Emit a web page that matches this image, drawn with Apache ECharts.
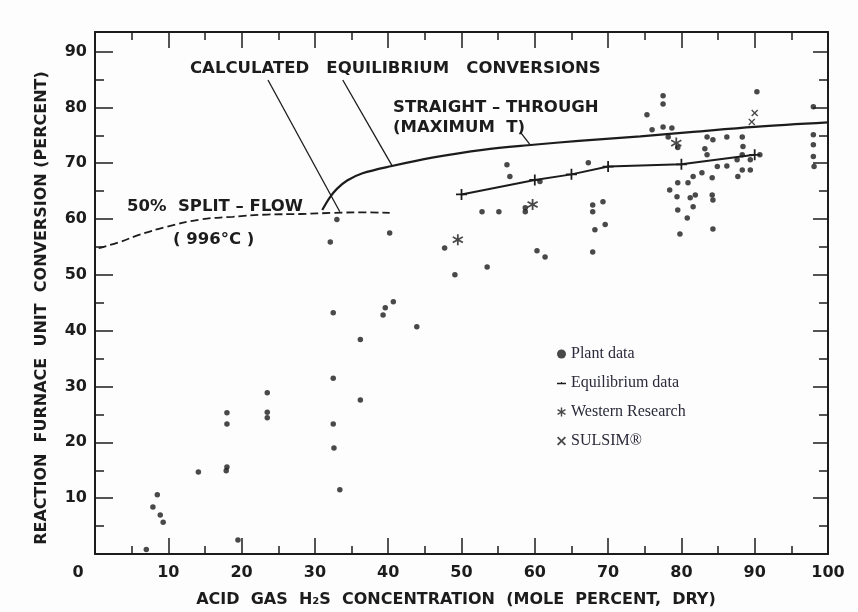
<!DOCTYPE html>
<html>
<head>
<meta charset="utf-8">
<script src="https://cdn.jsdelivr.net/npm/echarts@6/dist/echarts.min.js"></script>
<style>
html,body{margin:0;padding:0;background:#fdfdfd;}
#chart{width:858px;height:612px;}
</style>
</head>
<body>
<div id="chart"></div>
<script>
// ---------- data ----------
const xTickValues = [0,10,20,30,40,50,60,70,80,90,100];
const yTickValues = [0,10,20,30,40,50,60,70,80,90];
const yMinorValues = [5,15,25,35,45,55,65,75,85];
const yLabelValues = [10,20,30,40,50,60,70,80,90];

// 50% split-flow (996 C) calculated curve (dashed)
const splitFlowX = [0.5, 3.4, 6.1, 9.8, 14.3, 18.8, 23.5, 28.0, 32.5, 36.5, 40.2];
const splitFlowY = [54.8, 55.9, 57.2, 58.6, 59.9, 60.4, 60.8, 60.9, 61.1, 61.2, 61.1];

// straight-through (maximum T) calculated curve (solid)
const straightX = [31.0, 32.0, 33.0, 34.4, 36.5, 40.5, 46.0, 52.9, 59.8, 66.0, 74.4, 81.6, 90.0, 100.0];
const straightY = [61.6, 63.8, 65.4, 66.9, 68.2, 69.5, 71.0, 72.4, 73.3, 74.0, 74.8, 75.6, 76.5, 77.3];

// equilibrium data (+) joined by line
const equilX = [50.0, 60.0, 65.0, 70.0, 80.0, 90.0];
const equilY = [64.4, 67.0, 68.0, 69.4, 69.8, 71.5];

// plant data (dots)
const plantX = [7.0, 7.9, 8.5, 8.9, 9.3, 14.1, 17.9, 18.0, 18.0, 18.0, 19.5, 23.5, 23.5, 23.5,
  32.1, 33.0, 32.5, 32.5, 32.5, 32.6, 33.4, 36.2, 36.2, 39.3, 39.6, 40.7, 40.2, 43.9,
  47.7, 49.1, 52.8, 53.5, 55.1, 56.2, 56.6, 58.7, 58.7, 60.3, 60.7, 61.4,
  67.3, 67.9, 67.9, 67.9, 68.2, 69.3, 69.6,
  75.3, 76.0, 77.5, 77.5, 77.5, 78.7, 78.2, 78.4, 79.5, 79.5, 79.4, 79.5, 79.8, 80.8, 80.9,
  81.2, 81.6, 81.6, 81.9, 82.8, 83.2, 83.5, 83.5, 84.2, 84.2, 84.3, 84.3, 84.3, 84.9,
  86.2, 86.2, 87.6, 87.7, 88.3, 88.3, 88.3, 88.4, 89.4, 89.4, 90.3, 90.7,
  98.0, 98.0, 98.0, 98.0, 98.1];
const plantY = [0.8, 8.4, 10.6, 7.0, 5.7, 14.7, 14.9, 15.6, 23.3, 25.3, 2.5, 24.4, 25.4, 28.9,
  55.9, 59.9, 43.2, 31.5, 23.3, 19.0, 11.5, 38.4, 27.6, 42.8, 44.1, 45.2, 57.5, 40.7,
  54.8, 50.0, 61.3, 51.4, 61.3, 69.7, 67.6, 62.0, 61.3, 54.3, 66.7, 53.2,
  70.1, 62.5, 61.3, 54.1, 58.1, 63.1, 59.0,
  78.7, 76.0, 82.1, 80.6, 76.5, 76.3, 74.7, 65.2, 72.8, 66.5, 64.0, 61.6, 57.3, 60.2, 66.5,
  63.8, 67.6, 62.2, 64.3, 68.3, 72.6, 71.5, 74.7, 67.4, 64.3, 74.2, 63.4, 58.2, 69.4,
  74.7, 69.5, 70.6, 67.6, 74.7, 71.5, 68.8, 73.0, 70.6, 68.8, 82.8, 71.5,
  80.1, 75.1, 73.3, 71.2, 69.4];

// Western Research (*)
const westernX = [49.5, 59.7, 79.3];
const westernY = [56.3, 62.6, 73.6];

// SULSIM (x)
const sulsimX = [89.6, 90.0];
const sulsimY = [77.4, 79.0];

// labels
const xTitle = 'ACID  GAS  H\u2082S  CONCENTRATION  (MOLE  PERCENT,  DRY)';
const yTitle = 'REACTION  FURNACE  UNIT  CONVERSION (PERCENT)';
const legendNames = ['Plant data', 'Equilibrium data', 'Western Research', 'SULSIM\u00AE'];

// ---------- helpers ----------
const zip = (xs, ys) => xs.map((x, i) => [x, ys[i]]);
const INK = '#1c1c1c';
const crossPath = 'path://M4.2,0h1.6v4.2h4.2v1.6h-4.2v4.2h-1.6v-4.2h-4.2v-1.6h4.2z';
const dashPath = 'path://M0,4.3h10v1.4h-10zM4.4,3.2h1.2v1.2h-1.2z';
const starPath = 'path://M4.3,0h1.4v3.3l2.9-1.7l0.7,1.2l-2.9,1.7l2.9,1.7l-0.7,1.2l-2.9-1.7v3.3h-1.4v-3.3l-2.9,1.7l-0.7-1.2l2.9-1.7l-2.9-1.7l0.7-1.2l2.9,1.7z';
const xPath = 'path://M0,1.4L1.4,0L5,3.6L8.6,0L10,1.4L6.4,5L10,8.6L8.6,10L5,6.4L1.4,10L0,8.6L3.6,5z';

const tickFont = { fontFamily: 'DejaVu Sans', fontWeight: 'bold', fontSize: 16, color: INK };
const annFont = 'bold 16.5px "DejaVu Sans"';
const titleFont = 'bold 16px "DejaVu Sans"';

const chart = echarts.init(document.getElementById('chart'), null, { renderer: 'canvas' });

function xAxisDef(pos, showLabel) {
  return {
    type: 'value', position: pos, min: 0, max: 100, interval: 10,
    axisLine: { show: true, onZero: false, lineStyle: { color: INK, width: 2 } },
    axisTick: { show: true, inside: true, length: 16, lineStyle: { color: INK, width: 1.5 } },
    minorTick: { show: true, splitNumber: 2, length: 8, lineStyle: { color: INK, width: 1.5 } },
    splitLine: { show: false },
    axisLabel: showLabel ? {
      show: true, margin: 11,
      formatter: v => v === 0 ? '{z|0}' : String(v),
      ...tickFont,
      rich: { z: { ...tickFont, padding: [0, 34, 0, 0] } }
    } : { show: false }
  };
}
function yAxisDef(pos, major) {
  return {
    type: 'value', position: pos, min: 0, max: 93.5, interval: 10, offset: 0,
    axisLine: { show: major, onZero: false, lineStyle: { color: INK, width: 2 } },
    axisTick: { show: true, inside: true, length: major ? (pos === 'left' ? 18 : 15) : 9,
      customValues: major ? yTickValues : yMinorValues, lineStyle: { color: INK, width: 1.5 } },
    splitLine: { show: false },
    axisLabel: (major && pos === 'left') ? { show: true, margin: 8, customValues: yLabelValues, ...tickFont } : { show: false }
  };
}

const option = {
  backgroundColor: '#fdfdfd',
  animation: false,
  grid: { left: 95, right: 30, top: 32, bottom: 58, containLabel: false },
  xAxis: [xAxisDef('bottom', true), xAxisDef('top', false)],
  yAxis: [yAxisDef('left', true), yAxisDef('left', false), yAxisDef('right', true), yAxisDef('right', false)],
  legend: {
    data: legendNames.map((n, i) => ({ name: n, icon: [ 'circle', dashPath, starPath, xPath ][i] })),
    orient: 'vertical', left: 552, top: 341, itemGap: 13, itemWidth: 9, itemHeight: 9,
    textStyle: { fontFamily: 'Liberation Serif', fontSize: 16, color: '#2a2a3a' },
    selectedMode: false
  },
  series: [
    {
      name: 'split', type: 'line', smooth: true, showSymbol: false, symbol: 'none',
      data: zip(splitFlowX, splitFlowY),
      lineStyle: { color: INK, width: 1.8, type: [8, 4] },
      markLine: {
        silent: true, symbol: ['none', 'arrow'], symbolSize: [0, 9],
        label: { show: false },
        lineStyle: { color: INK, width: 1.3, type: 'solid' },
        data: [
          [{ coord: [23.6, 84.9] }, { coord: [33.4, 61.3] }],
          [{ coord: [33.8, 84.9] }, { coord: [40.5, 69.6] }],
          [{ coord: [58.0, 75.6] }, { coord: [59.3, 73.4] }]
        ]
      }
    },
    {
      name: 'straight', type: 'line', smooth: 0.35, showSymbol: false, symbol: 'none',
      data: zip(straightX, straightY),
      lineStyle: { color: INK, width: 2.2 }
    },
    {
      name: 'Equilibrium data', type: 'line', smooth: false,
      data: zip(equilX, equilY),
      symbol: crossPath, symbolSize: 11, showSymbol: true,
      itemStyle: { color: INK }, lineStyle: { color: INK, width: 2 }
    },
    {
      name: 'Plant data', type: 'scatter', data: zip(plantX, plantY),
      symbol: 'circle', symbolSize: 5.5, itemStyle: { color: INK }
    },
    {
      name: 'Western Research', type: 'scatter', data: zip(westernX, westernY),
      symbol: starPath, symbolSize: 11, itemStyle: { color: INK }
    },
    {
      name: 'SULSIM\u00AE', type: 'scatter', data: zip(sulsimX, sulsimY),
      symbol: xPath, symbolSize: 7, itemStyle: { color: INK }
    }
  ],
  graphic: [
    { type: 'text', left: 190, top: 60, style: { text: 'CALCULATED   EQUILIBRIUM   CONVERSIONS', font: annFont, fill: INK } },
    { type: 'text', left: 393, top: 99, style: { text: 'STRAIGHT \u2013 THROUGH', font: annFont, fill: INK } },
    { type: 'text', left: 393, top: 119, style: { text: '(MAXIMUM  T)', font: annFont, fill: INK } },
    { type: 'text', left: 127, top: 198, style: { text: '50%  SPLIT \u2013 FLOW', font: annFont, fill: INK } },
    { type: 'text', left: 173, top: 231, style: { text: '( 996\u00B0C )', font: annFont, fill: INK } },
    { type: 'text', x: 456, y: 600, style: { text: xTitle, font: titleFont, fill: INK, textAlign: 'center', textVerticalAlign: 'middle' } },
    { type: 'text', x: 42, y: 308, rotation: Math.PI / 2, style: { text: yTitle, font: titleFont, fill: INK, textAlign: 'center', textVerticalAlign: 'middle' } }
  ]
};
chart.setOption(option);
</script>
</body>
</html>
